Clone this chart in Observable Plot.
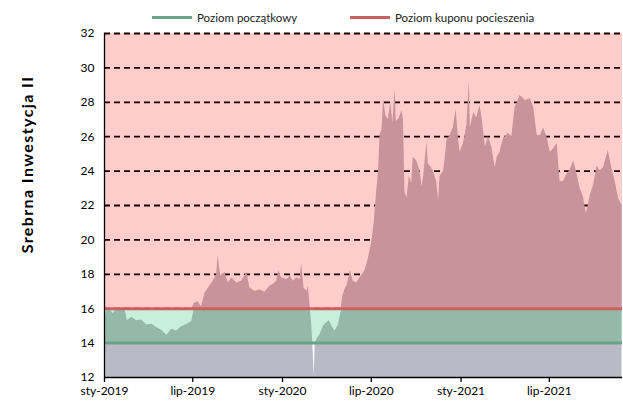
<!DOCTYPE html>
<html><head><meta charset="utf-8">
<script src="https://cdn.jsdelivr.net/npm/d3@7"></script>
<script src="https://cdn.jsdelivr.net/npm/@observablehq/plot@0.6"></script>
<style>
body{margin:0;background:#fff;font-family:Lato,"Open Sans",sans-serif;}
#wrap{position:relative;width:623px;height:402px;}
#legend{position:absolute;top:9px;left:0;width:623px;height:16px;font-size:11.5px;color:#222;z-index:2}
.item{position:absolute;top:0;display:flex;align-items:center;white-space:nowrap;height:16px}
.sw{display:inline-block;width:40px;height:3px;margin-right:5px}
#wrap svg{position:absolute;left:0;top:0;z-index:1}
</style></head>
<body><div id="wrap"><div id="legend"></div></div>
<script>
const dates = [
"2019-01-02","2019-01-05","2019-01-12","2019-01-19","2019-01-26","2019-02-05","2019-02-12","2019-02-17","2019-02-26","2019-03-08",
"2019-03-18","2019-03-29","2019-04-08","2019-04-18","2019-04-28","2019-05-09","2019-05-19","2019-05-29","2019-06-08","2019-06-19",
"2019-06-29","2019-07-04","2019-07-12","2019-07-19","2019-07-26","2019-08-02","2019-08-12","2019-08-19","2019-08-22","2019-08-27",
"2019-09-05","2019-09-12","2019-09-19","2019-09-29","2019-10-09","2019-10-20","2019-10-26","2019-11-06","2019-11-16","2019-11-26",
"2019-12-06","2019-12-13","2019-12-20","2019-12-24","2019-12-30","2020-01-10","2020-01-17","2020-01-23","2020-01-30","2020-02-06",
"2020-02-09","2020-02-14","2020-02-20","2020-02-23","2020-02-27","2020-03-01","2020-03-03","2020-03-06","2020-03-08","2020-03-13",
"2020-03-18","2020-03-25","2020-04-01","2020-04-06","2020-04-12","2020-04-18","2020-04-25","2020-04-30","2020-05-04","2020-05-08",
"2020-05-13","2020-05-19","2020-05-25","2020-06-01","2020-06-08","2020-06-18","2020-06-25","2020-07-02","2020-07-07","2020-07-11",
"2020-07-16","2020-07-19","2020-07-23","2020-07-26","2020-07-31","2020-08-05","2020-08-10","2020-08-14","2020-08-19","2020-08-21",
"2020-08-26","2020-09-02","2020-09-05","2020-09-08","2020-09-12","2020-09-17","2020-09-22","2020-09-25","2020-10-02","2020-10-09",
"2020-10-13","2020-10-16","2020-10-23","2020-10-26","2020-10-30","2020-11-05","2020-11-12","2020-11-16","2020-11-19","2020-11-26",
"2020-11-29","2020-12-03","2020-12-10","2020-12-16","2020-12-22","2020-12-27","2020-12-30","2021-01-06","2021-01-13","2021-01-18",
"2021-01-20","2021-01-27","2021-02-02","2021-02-09","2021-02-13","2021-02-20","2021-02-26","2021-03-05","2021-03-12","2021-03-16",
"2021-03-22","2021-03-29","2021-04-08","2021-04-15","2021-04-22","2021-05-02","2021-05-13","2021-05-23","2021-05-30","2021-06-06",
"2021-06-12","2021-06-19","2021-06-26","2021-07-03","2021-07-10","2021-07-17","2021-07-23","2021-07-30","2021-08-06","2021-08-13",
"2021-08-20","2021-08-27","2021-09-02","2021-09-09","2021-09-15","2021-09-23","2021-09-30","2021-10-07","2021-10-13","2021-10-20",
"2021-10-30","2021-11-06","2021-11-13","2021-11-20","2021-11-27"
];
const prices = [
15.5,15.85,15.95,15.7,16.0,15.9,15.95,15.3,15.5,15.3,
15.35,15.05,15.1,14.9,14.75,14.45,14.8,14.7,14.95,15.1,
15.25,16.3,16.4,16.1,16.9,17.2,17.6,18.0,19.1,17.9,
18.1,17.5,17.8,17.5,17.6,18.1,17.2,17.0,17.1,16.95,
17.3,17.4,17.6,18.2,17.8,17.7,17.9,17.6,17.8,17.7,
18.65,17.2,17.0,17.3,16.0,15.0,14.0,12.1,14.0,14.3,
14.5,15.0,15.2,15.3,14.95,14.7,15.1,15.8,16.8,17.1,
17.4,18.2,17.6,17.5,17.8,18.2,18.9,19.9,21.0,22.5,
24.0,26.1,26.4,28.2,27.2,27.0,28.0,26.8,28.8,26.9,
27.0,27.5,27.0,22.8,22.4,23.7,23.3,24.8,24.6,24.0,
23.1,23.6,25.7,24.4,24.3,24.0,23.4,22.3,23.7,24.0,
24.6,25.8,26.1,26.5,27.6,25.8,25.1,25.6,26.7,29.2,
26.5,27.4,27.1,27.8,27.1,25.4,26.0,25.4,24.2,24.8,
25.1,25.9,26.2,26.0,27.7,28.4,28.1,28.2,27.7,26.1,
26.0,26.5,26.0,25.1,25.3,25.6,23.4,23.4,23.8,24.1,
24.6,23.8,23.0,22.5,21.5,22.6,23.2,24.3,24.0,24.2,
25.2,24.2,23.4,22.4,22.0
];
const xStart = "2019-01-01";
const xEnd = "2021-11-28";
const bandLo = [12, 14, 16];
const bandHi = [14, 16, 32];
const bandFillAbove = ["#ffffff", "#c8efdc", "#ffcccc"];
const bandFillBelow = ["#babac6", "#94b9a9", "#c8939b"];
const gridLevels = [16, 18, 20, 22, 24, 26, 28, 30, 32];
const initialLevel = 14;
const couponLevel = 16;
const yTicks = [12, 14, 16, 18, 20, 22, 24, 26, 28, 30, 32];
const xTickDates = ["2019-01-01","2019-07-01","2020-01-01","2020-07-01","2021-01-01","2021-07-01"];
const xTickLabels = ["sty-2019","lip-2019","sty-2020","lip-2020","sty-2021","lip-2021"];
const legendLabels = ["Poziom początkowy", "Poziom kuponu pocieszenia"];
const legendColors = ["#6ba287", "#cc5f5f"];
const yTitle = "Srebrna Inwestycja II";

const parse = d3.utcParse("%Y-%m-%d");
const series = dates.map((d, i) => ({date: parse(d), price: prices[i]}));
const x0 = parse(xStart), x1 = parse(xEnd);
const bands = bandLo.map((lo, i) => ({lo, hi: bandHi[i], above: bandFillAbove[i], below: bandFillBelow[i]}));
const tickDates = xTickDates.map(parse);
const tickMap = new Map(tickDates.map((d, i) => [+d, xTickLabels[i]]));

const marks = [
  Plot.rect(bands, {x1: () => x0, x2: () => x1, y1: "lo", y2: "hi", fill: d => d.above}),
  Plot.ruleY(gridLevels, {stroke: "#1a0000", strokeWidth: 1.8, strokeDasharray: "6,4"})
];
for (const b of bands) {
  marks.push(Plot.areaY(series, {
    x: "date",
    y1: () => b.lo,
    y2: d => Math.max(b.lo, Math.min(b.hi, d.price)),
    fill: b.below
  }));
}
marks.push(
  Plot.ruleY([initialLevel], {stroke: legendColors[0], strokeWidth: 3}),
  Plot.ruleY([couponLevel], {stroke: legendColors[1], strokeWidth: 3}),
  Plot.ruleX([x0], {stroke: "#000", strokeWidth: 1.3}),
  Plot.ruleY([12], {stroke: "#000", strokeWidth: 1.3}),
  Plot.axisY({ticks: yTicks, tickSize: 0, tickPadding: 10, fontSize: 12, label: null}),
  Plot.axisX({ticks: tickDates, tickFormat: d => tickMap.get(+d), tickSize: 5, tickPadding: 4, fontSize: 12, label: null, strokeWidth: 1.3}),
  Plot.text([yTitle], {frameAnchor: "top-left", dx: -83, dy: 131, rotate: -90, fontWeight: "bold", fontSize: 16, textAnchor: "middle", fill: "#000"})
);

const chart = Plot.plot({
  width: 623, height: 402,
  marginTop: 33, marginBottom: 25, marginLeft: 104, marginRight: 1,
  style: {fontFamily: "Lato, 'Open Sans', sans-serif", fontSize: "12px", color: "#000", background: "#fff"},
  x: {type: "utc", domain: [x0, x1]},
  y: {domain: [12, 32]},
  marks
});
d3.select(chart).selectAll("text").filter(function() { return this.textContent === yTitle; })
  .style("letter-spacing", "1.4px");
document.getElementById("wrap").appendChild(chart);

const legend = document.getElementById("legend");
const lefts = [152, 350];
legendLabels.forEach((lab, i) => {
  const it = document.createElement("div");
  it.className = "item";
  it.style.left = lefts[i] + "px";
  const sw = document.createElement("span");
  sw.className = "sw";
  sw.style.background = legendColors[i];
  const tx = document.createElement("span");
  tx.textContent = lab;
  it.appendChild(sw); it.appendChild(tx);
  legend.appendChild(it);
});
</script>
</body></html>
